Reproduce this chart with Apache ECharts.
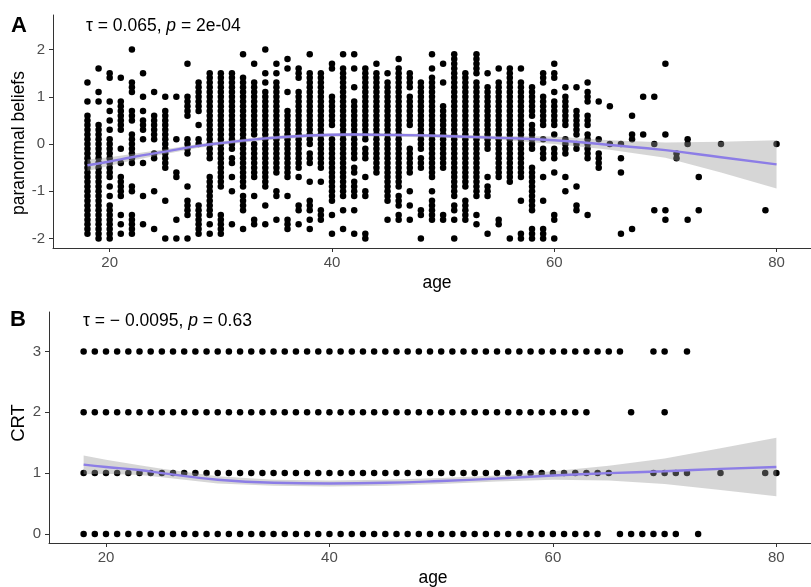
<!DOCTYPE html>
<html>
<head>
<meta charset="utf-8">
<script src="https://cdn.jsdelivr.net/npm/echarts@6/dist/echarts.min.js"></script>
<style>
  html, body {margin: 0; padding: 0; background: #fff;}
  #main {width: 811px; height: 587px;}
</style>
</head>
<body>
<div id="main"></div>
<script>
// ============ 数据 A: 年龄 vs 超自然信念 ============
// 每个年龄一列，值以 0.1 为单位，"a:b" 表示从 a 到 b 连续的一串点
var agesA = [18, 19, 20, 21, 22, 23, 24, 25, 26, 27, 28, 29, 30, 31, 32, 33, 34, 35, 36, 37, 38, 39,
  40, 41, 42, 43, 44, 45, 46, 47, 48, 49, 50, 51, 52, 53, 54, 55, 56, 57, 58, 59, 60, 61, 62, 63,
  64, 65, 66, 67, 68, 69, 70, 71, 72, 73, 75, 79, 80];
var beliefsA = [
  '13 9 6:-14 -15:-19',
  '16 11 9 4:-8 -9:-14 -15:-20',
  '15 14 9 7 5 3 1:-7 -9 -11 -13:-20',
  '14 9:3 -1 -4 -7:-11 -15 -17 -19',
  '20 13:11 7:5 2:-4 -9:-10 -15:-19',
  '15 10 7 5 4 3 1 -4 -11 -17',
  '11 6:1 -2 -3 -10 -18',
  '10 7:-5 -12 -20',
  '10 1 -6:-7 -16 -20',
  '17 10:6 1:-2 -9 -12:-15 -20',
  '13:7 4 1 0 -13:-19',
  '15:-3 -7:-15 -17 -19',
  '15:-9 -15:-19',
  '15:-1 -3:-4 -7 -10 -17',
  '19 14:-9 -11:-14 -18',
  '17 13:2 0:-7 -11 -16:-17',
  '20 15 13 11:-9 -13 -17',
  '17 15 13:-6 -10 -11 -16',
  '18 16 11 7:-7 -11 -16:-18',
  '16:14 11:-5 -7 -13:-14 -17',
  '19 15:0 -2:-4 -8 -12:-14 -16 -18',
  '15:-5 -8 -14:-16',
  '17:16 10:4 1:-8 -9:-12 -15 -19',
  '19 16:-11 -14 -18',
  '19 16 12 9:-3 -5:-6 -8:-11 -14 -19',
  '16 15:1 -1:-3 -7 -10:-11 -19:-20',
  '17 15:-6',
  '15 13:-12 -16',
  '18 16:-9 -11:-13 -15:-16',
  '15:12 10:4 -1:-6 -10 -13 -16',
  '13:-1 -3:-5 -14:-15 -20',
  '19 16 14:-7 -10 -12:-16',
  '17 13 8:-5 -15:-16',
  '19:14 13:-11 -13 -14 -16 -20',
  '15:-9 -12:-16',
  '19:15 13:-9 -10:-11 -15 -17',
  '15 12:-1 -7 -9:-11 -19',
  '16 13:-7 -16:-17',
  '16:4 3:-8 -20',
  '16 13:-7 -12 -19:-20',
  '12:6 4:-1 -5:-14 -18:-20',
  '15:13 10:4 1 -1:-3 -7 -12 -18:-20',
  '17 15:14 11 9:4 2 -1:-3 -6 -15:-16 -20',
  '12 10:4 1:-2 -7 -10',
  '12 7:2 0:-1 -9 -13:-14',
  '13 11:9 6:4 2:-3 -15',
  '9 1 -2:-5',
  '8 0',
  '0 -3 -6 -19',
  '6 2 1 -18',
  '10 2',
  '10 0 -14',
  '17 2 -14 -16',
  '-2 -3',
  '1 0 -16',
  '-7 -14',
  '0',
  '-14',
  '0'
];

// 拟合曲线 A (loess) 及置信带
var fitAgesA = [18, 20, 22, 25, 28, 30, 34, 38, 42, 46, 50, 55, 60, 65, 70, 75, 80];
var fitA = [-0.45, -0.37, -0.28, -0.16, -0.04, 0.02, 0.12, 0.18, 0.2, 0.19, 0.17, 0.13, 0.08, -0.02, -0.13, -0.28, -0.43];
var lowerA = [-0.57, -0.46, -0.35, -0.21, -0.08, -0.02, 0.08, 0.145, 0.165, 0.155, 0.135, 0.09, 0.0, -0.12, -0.29, -0.6, -0.94];
var upperA = [-0.33, -0.28, -0.21, -0.11, 0.0, 0.06, 0.16, 0.215, 0.235, 0.225, 0.205, 0.17, 0.16, 0.08, 0.03, 0.05, 0.08];

// ============ 数据 B: 年龄 vs CRT ============
var crt3Ages = [18, 19, 20, 21, 22, 23, 24, 25, 26, 27, 28, 29, 30, 31, 32, 33, 34, 35, 36, 37, 38, 39, 40,
  41, 42, 43, 44, 45, 46, 47, 48, 49, 50, 51, 52, 53, 54, 55, 56, 57, 58, 59, 60, 61, 62, 63, 64, 65, 66,
  69, 70, 72];
var crt2Ages = [18, 19, 20, 21, 22, 23, 24, 25, 26, 27, 28, 29, 30, 31, 32, 33, 34, 35, 36, 37, 38, 39, 40,
  41, 42, 43, 44, 45, 46, 47, 48, 49, 50, 51, 52, 53, 54, 55, 56, 57, 58, 59, 60, 61, 62, 63,
  67, 70];
var crt1Ages = [18, 19, 20, 21, 22, 23, 24, 25, 26, 27, 28, 29, 30, 31, 32, 33, 34, 35, 36, 37, 38, 39, 40,
  41, 42, 43, 44, 45, 46, 47, 48, 49, 50, 51, 52, 53, 54, 55, 56, 57, 58, 59, 60, 61, 62, 63, 64, 65,
  69, 70, 71, 72, 75, 79, 80];
var crt0Ages = [18, 19, 20, 21, 22, 23, 24, 25, 26, 27, 28, 29, 30, 31, 32, 33, 34, 35, 36, 37, 38, 39, 40,
  41, 42, 43, 44, 45, 46, 47, 48, 49, 50, 51, 52, 53, 54, 55, 56, 57, 58, 59, 60, 61, 62, 63, 64,
  66, 67, 68, 69, 70, 71, 73];

var fitAgesB = [18, 20, 23, 25, 30, 35, 40, 45, 50, 55, 60, 65, 70, 75, 80];
var fitB = [1.14, 1.1, 1.05, 1.0, 0.89, 0.84, 0.83, 0.84, 0.87, 0.91, 0.96, 1.0, 1.03, 1.07, 1.1];
var lowerB = [0.98, 0.99, 0.97, 0.93, 0.83, 0.79, 0.78, 0.79, 0.82, 0.86, 0.89, 0.88, 0.82, 0.72, 0.62];
var upperB = [1.29, 1.22, 1.13, 1.07, 0.95, 0.89, 0.88, 0.89, 0.92, 0.96, 1.03, 1.12, 1.24, 1.41, 1.58];

// 解析一列的字符串
function expandColumn(str) {
  var out = [];
  str.split(' ').forEach(function (tok) {
    if (tok.indexOf(':') > 0) {
      var p = tok.split(':');
      var a = parseInt(p[0], 10), b = parseInt(p[1], 10);
      for (var v = a; v >= b; v--) out.push(v / 10);
    } else {
      out.push(parseInt(tok, 10) / 10);
    }
  });
  return out;
}

var scatterA = [];
for (var i = 0; i < agesA.length; i++) {
  expandColumn(beliefsA[i]).forEach(function (v) {
    scatterA.push([agesA[i], v]);
  });
}

var scatterB = [];
[[crt0Ages, 0], [crt1Ages, 1], [crt2Ages, 2], [crt3Ages, 3]].forEach(function (row) {
  row[0].forEach(function (a) {
    scatterB.push([a, row[1]]);
  });
});

function pairs(xs, ys) {
  return xs.map(function (x, k) {
    return [x, ys[k]];
  });
}

// 置信带 (画在点的上面，和 ggplot 一样)
function bandSeries(idx, xs, lo, hi) {
  return {
    type: 'custom', xAxisIndex: idx, yAxisIndex: idx, z: 3, silent: true,
    data: [[xs[0], lo[0]]],
    renderItem: function (params, api) {
      var pts = [];
      for (var k = 0; k < xs.length; k++) pts.push(api.coord([xs[k], hi[k]]));
      for (var m = xs.length - 1; m >= 0; m--) pts.push(api.coord([xs[m], lo[m]]));
      return {
        type: 'polygon',
        shape: {points: pts},
        style: {fill: '#999999', opacity: 0.4}
      };
    }
  };
}

var FONT = '"Liberation Sans", Arial, sans-serif';
var tickCol = '#4d4d4d';

function xAxisCfg(idx) {
  return {
    type: 'value', gridIndex: idx, min: 14.9, max: 83.1,
    axisLine: {show: true, onZero: false, lineStyle: {color: '#333', width: 1}},
    axisTick: {show: true, length: 4, lineStyle: {color: '#333'}, customValues: [20, 40, 60, 80]},
    axisLabel: {color: tickCol, fontSize: 15, fontFamily: FONT, margin: 7, customValues: [20, 40, 60, 80]},
    splitLine: {show: false}
  };
}

function yAxisCfg(idx, min, max, ticks) {
  return {
    type: 'value', gridIndex: idx, min: min, max: max,
    axisLine: {show: true, onZero: false, lineStyle: {color: '#333', width: 1}},
    axisTick: {show: true, length: 4, lineStyle: {color: '#333'}, customValues: ticks},
    axisLabel: {color: tickCol, fontSize: 15, fontFamily: FONT, margin: 8, customValues: ticks},
    splitLine: {show: false}
  };
}

function labelText(x, y, txt, size, bold, rot) {
  return {
    type: 'text', x: x, y: y, rotation: rot || 0,
    style: {
      text: txt, fill: '#000', font: (bold ? 'bold ' : '') + size + 'px ' + FONT,
      align: 'center', verticalAlign: 'middle'
    }
  };
}

function statText(x, y, parts) {
  return {
    type: 'text', x: x, y: y,
    style: {
      text: parts, fill: '#000', align: 'left', verticalAlign: 'middle',
      rich: {
        n: {fontSize: 17.5, fontFamily: FONT, fill: '#000'},
        i: {fontSize: 17.5, fontFamily: FONT, fontStyle: 'italic', fill: '#000'}
      }
    }
  };
}

var chart = echarts.init(document.getElementById('main'), null, {renderer: 'canvas'});
chart.setOption({
  animation: false,
  backgroundColor: '#fff',
  grid: [
    {left: 53, top: 15, right: -7, height: 233},
    {left: 49, top: 312, right: -8, height: 231}
  ],
  xAxis: [xAxisCfg(0), xAxisCfg(1)],
  yAxis: [yAxisCfg(0, -2.2, 2.73, [-2, -1, 0, 1, 2]), yAxisCfg(1, -0.15, 3.65, [0, 1, 2, 3])],
  series: [
    {
      type: 'scatter', xAxisIndex: 0, yAxisIndex: 0, data: scatterA, z: 2,
      symbolSize: 6.5, itemStyle: {color: '#000', opacity: 1}, silent: true
    },
    bandSeries(0, fitAgesA, lowerA, upperA),
    {
      type: 'line', xAxisIndex: 0, yAxisIndex: 0, data: pairs(fitAgesA, fitA), z: 4,
      smooth: true, showSymbol: false, lineStyle: {color: '#8c7de6', width: 2.4}, silent: true
    },
    {
      type: 'scatter', xAxisIndex: 1, yAxisIndex: 1, data: scatterB, z: 2,
      symbolSize: 6.5, itemStyle: {color: '#000', opacity: 1}, silent: true
    },
    bandSeries(1, fitAgesB, lowerB, upperB),
    {
      type: 'line', xAxisIndex: 1, yAxisIndex: 1, data: pairs(fitAgesB, fitB), z: 4,
      smooth: true, showSymbol: false, lineStyle: {color: '#8c7de6', width: 2.4}, silent: true
    }
  ],
  graphic: [
    labelText(19, 26, 'A', 22, true),
    labelText(18, 320, 'B', 22, true),
    statText(86, 26, '{n|τ = 0.065, }{i|p}{n| = 2e-04}'),
    statText(83, 321, '{n|τ = − 0.0095, }{i|p}{n| = 0.63}'),
    labelText(437, 283, 'age', 17.5),
    labelText(433, 578, 'age', 17.5),
    labelText(19, 143, 'paranormal beliefs', 17.5, false, Math.PI / 2),
    labelText(19, 423, 'CRT', 18.5, false, Math.PI / 2)
  ]
});
</script>
</body>
</html>
